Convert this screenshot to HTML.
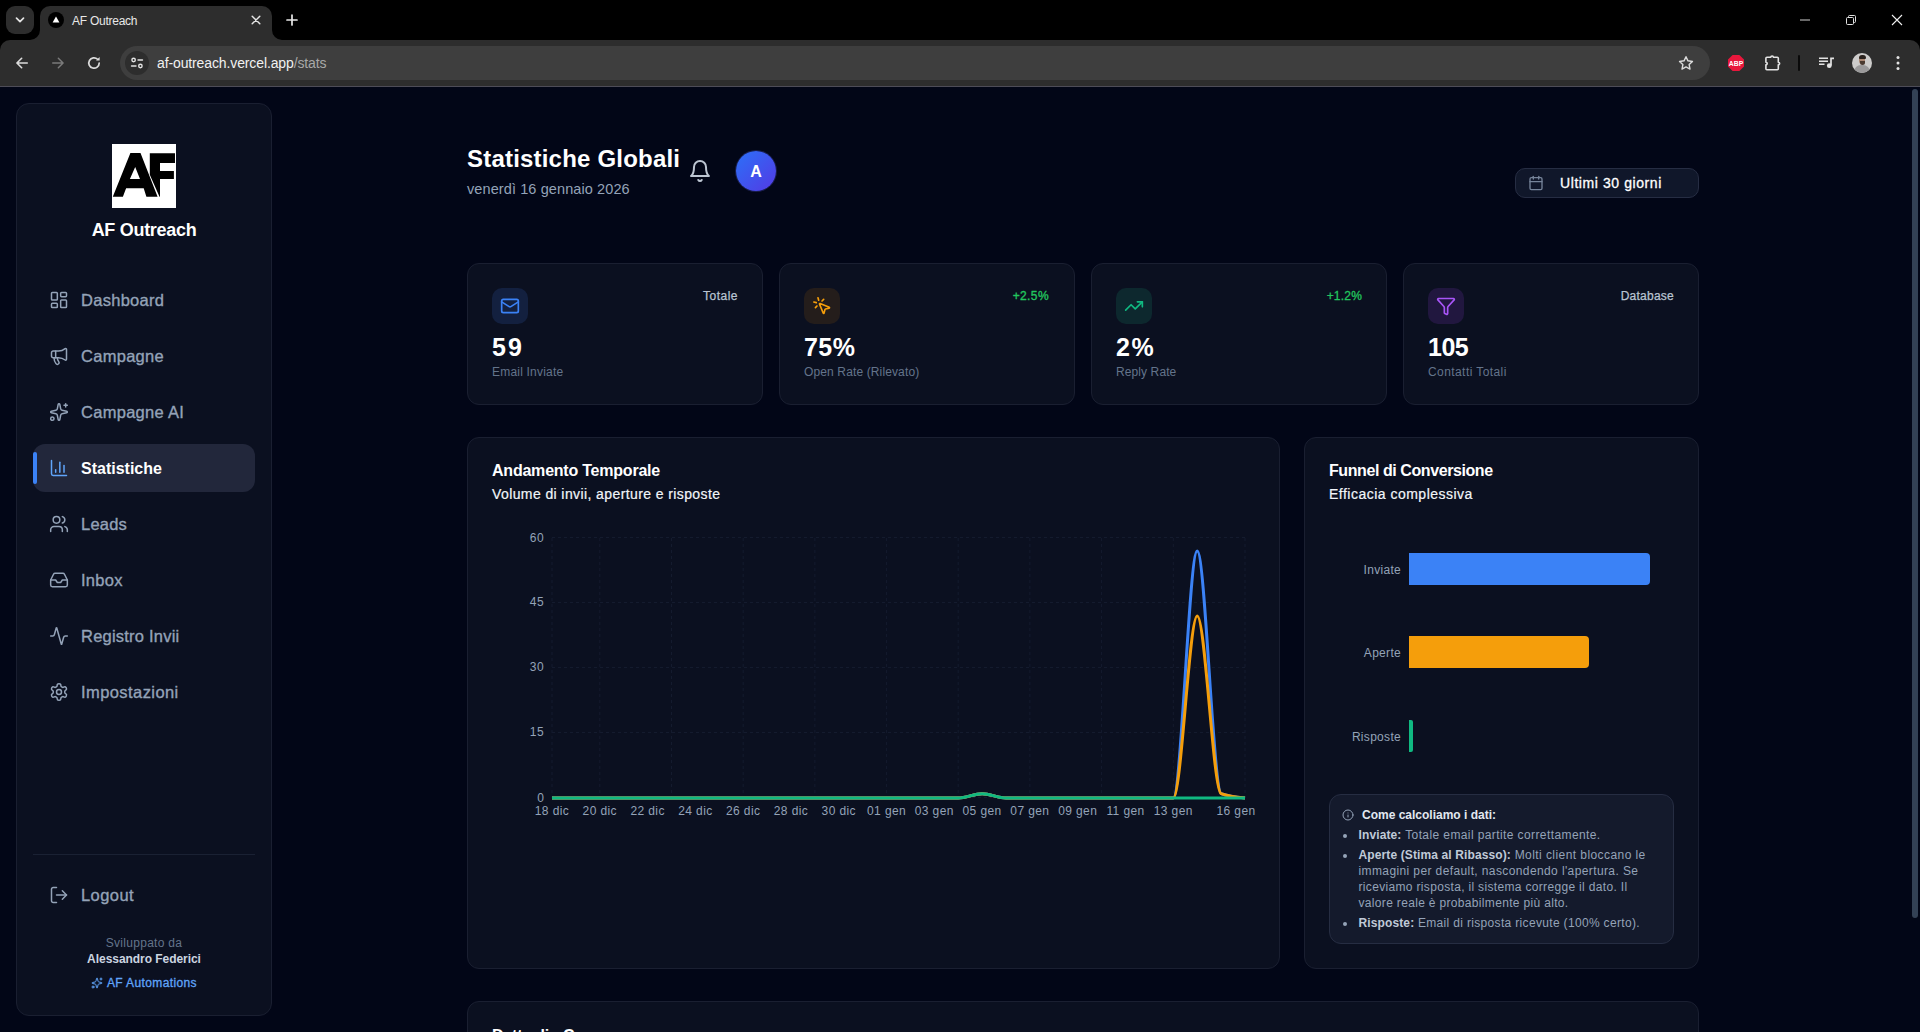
<!DOCTYPE html>
<html lang="it">
<head>
<meta charset="utf-8">
<title>AF Outreach</title>
<style>
*{box-sizing:border-box;margin:0;padding:0}
html,body{width:1920px;height:1032px;overflow:hidden;background:#020617}
body{font-family:"Liberation Sans",sans-serif;color:#fff;position:relative;-webkit-font-smoothing:antialiased}
.abs{position:absolute}
.t{position:absolute;white-space:nowrap;line-height:1}
svg{display:block}
/* ---------- browser chrome ---------- */
#tabstrip{position:absolute;left:0;top:0;width:1920px;height:60px;background:#000}
#toolbar{position:absolute;left:0;top:40px;width:1920px;height:46px;background:#2d2d2d;border-radius:10px 10px 0 0}
#tbline{position:absolute;left:0;top:86px;width:1920px;height:1px;background:#4d4c57}
#tab{position:absolute;left:40px;top:6px;width:232px;height:34px;background:#2d2d2d;border-radius:10px 10px 0 0}
#tabsearch{position:absolute;left:6px;top:6px;width:28px;height:28px;background:#2d2d2d;border-radius:9px}
#omni{position:absolute;left:120px;top:46px;width:1590px;height:34px;border-radius:17px;background:#3e3e3e}
/* ---------- page ---------- */
#page{position:absolute;left:0;top:87px;width:1920px;height:945px;background:#020617;overflow:hidden}
.card{position:absolute;background:#0b1020;border:1px solid #1a1f31;border-radius:12px}
#side{left:16px;top:16px;width:256px;height:913px;border-radius:13px}
.nav{position:absolute;left:81px;font-size:16.5px;font-weight:400;color:#94a3b8;line-height:20px;white-space:nowrap;-webkit-text-stroke:0.35px #94a3b8;letter-spacing:0.28px}
.nico{position:absolute;left:49px;width:20px;height:20px;stroke:#94a3b8;fill:none;stroke-width:1.8;stroke-linecap:round;stroke-linejoin:round}
.ib{font-size:12px;color:#94a3b8;letter-spacing:0.33px}
.ib b{color:#c0cad8;letter-spacing:0.12px}
.ax{font-size:12px;color:#94a3b8;letter-spacing:0.4px}
</style>
</head>
<body>
<!-- ================= BROWSER CHROME ================= -->
<div id="tabstrip"></div>
<div id="tabsearch"></div>
<div id="tab"></div>
<div id="toolbar"></div>
<div id="tbline"></div>
<div id="omni"></div>

<svg class="abs" style="left:30px;top:30px" width="10" height="10" viewBox="0 0 10 10"><path d="M10 0v10H0A10 10 0 0 0 10 0z" fill="#2d2d2d"/></svg>
<svg class="abs" style="left:272px;top:30px" width="10" height="10" viewBox="0 0 10 10"><path d="M0 0v10h10A10 10 0 0 1 0 0z" fill="#2d2d2d"/></svg>
<!-- tab search chevron -->
<svg class="abs" style="left:13px;top:13px" width="14" height="14" viewBox="0 0 14 14"><path d="M3.5 5.2 7 8.7l3.5-3.5" fill="none" stroke="#e3e3e3" stroke-width="1.7" stroke-linecap="round" stroke-linejoin="round"/></svg>
<!-- favicon -->
<svg class="abs" style="left:48px;top:12px" width="16" height="16" viewBox="0 0 16 16"><circle cx="8" cy="8" r="8" fill="#000"/><path d="M8 4.6 11.4 10.6H4.6z" fill="#fff"/></svg>
<div class="t" style="left:72px;top:15px;font-size:12px;color:#e8e8e8;letter-spacing:-0.25px">AF Outreach</div>
<!-- tab close -->
<svg class="abs" style="left:250px;top:14px" width="12" height="12" viewBox="0 0 12 12"><path d="M2.2 2.2l7.6 7.6M9.8 2.2l-7.6 7.6" stroke="#e3e3e3" stroke-width="1.5" stroke-linecap="round"/></svg>
<!-- new tab -->
<svg class="abs" style="left:285px;top:13px" width="14" height="14" viewBox="0 0 14 14"><path d="M7 2v10M2 7h10" stroke="#e8e8e8" stroke-width="1.7" stroke-linecap="round"/></svg>
<!-- window controls -->
<svg class="abs" style="left:1799px;top:14px" width="12" height="12" viewBox="0 0 12 12"><path d="M1 6h10" stroke="#d0d0d0" stroke-width="1"/></svg>
<svg class="abs" style="left:1845px;top:14px" width="12" height="12" viewBox="0 0 12 12"><rect x="1.5" y="3.5" width="7" height="7" rx="1" fill="none" stroke="#e0e0e0" stroke-width="1"/><path d="M3.5 3.5V2.5a1 1 0 0 1 1-1h5a1 1 0 0 1 1 1v5a1 1 0 0 1-1 1h-1" fill="none" stroke="#e0e0e0" stroke-width="1"/></svg>
<svg class="abs" style="left:1891px;top:14px" width="12" height="12" viewBox="0 0 12 12"><path d="M1 1l10 10M11 1L1 11" stroke="#f0f0f0" stroke-width="1.1"/></svg>
<!-- nav buttons -->
<svg class="abs" style="left:15px;top:56px" width="14" height="14" viewBox="0 0 16 16"><path d="M14 8H2.6M7.6 2.6 2.2 8l5.4 5.4" fill="none" stroke="#dcdcdc" stroke-width="1.9" stroke-linecap="round" stroke-linejoin="round"/></svg>
<svg class="abs" style="left:51px;top:56px" width="14" height="14" viewBox="0 0 16 16"><path d="M2 8h11.4M8.4 2.6 13.8 8l-5.4 5.4" fill="none" stroke="#7a7a7a" stroke-width="1.7" stroke-linecap="round" stroke-linejoin="round"/></svg>
<svg class="abs" style="left:86px;top:55px" width="16" height="16" viewBox="0 0 16 16"><path d="M13.2 8a5.2 5.2 0 1 1-1.6-3.75" fill="none" stroke="#dcdcdc" stroke-width="1.7" stroke-linecap="round"/><path d="M13.6 2v3.6H10z" fill="#dcdcdc"/></svg>
<!-- site info -->
<div class="abs" style="left:125px;top:51px;width:24px;height:24px;border-radius:12px;background:#2d2d2d"></div>
<svg class="abs" style="left:130px;top:56px" width="14" height="14" viewBox="0 0 14 14" fill="none" stroke="#e3e3e3" stroke-width="1.4" stroke-linecap="round"><circle cx="3.6" cy="4" r="1.7"/><path d="M8 4h4.5"/><circle cx="10.4" cy="10" r="1.7"/><path d="M1.5 10H6"/></svg>
<div class="t" style="left:157px;top:55.5px;font-size:14px;color:#f1f1f1;letter-spacing:-0.12px">af-outreach.vercel.app<span style="color:#a8a8a8">/stats</span></div>
<!-- star -->
<svg class="abs" style="left:1677px;top:54px" width="18" height="18" viewBox="0 0 24 24"><path d="M12 3.6l2.6 5.5 6 .8-4.4 4.2 1.1 6-5.3-2.9-5.3 2.9 1.1-6L3.4 9.9l6-.8z" fill="none" stroke="#dcdcdc" stroke-width="1.9" stroke-linejoin="round"/></svg>
<!-- ABP -->
<svg class="abs" style="left:1727px;top:54px" width="18" height="18" viewBox="0 0 18 18"><path d="M5.6 1h6.8L17 5.6v6.8L12.400 17H5.6L1 12.4V5.600z" fill="#e8173c"/><text x="9" y="11.6" font-family="Liberation Sans" font-weight="700" font-size="6.8" fill="#fff" text-anchor="middle">ABP</text></svg>
<!-- puzzle -->
<svg class="abs" style="left:1762px;top:51.500px" width="20" height="20" viewBox="0 0 20 20"><path fill="none" stroke="#e3e3e3" stroke-width="1.600" stroke-linejoin="round" d="M3.900 10.200V6.300a1 1 0 0 1 1-1H8.800a1.300 1.300 0 1 1 2.600 0H15.300a1 1 0 0 1 1 1V10.200a1.300 1.300 0 1 1 0 2.600V16.700a1 1 0 0 1-1 1H4.900a1 1 0 0 1-1-1V12.800a1.300 1.300 0 1 0 0-2.600z"/></svg>
<div class="abs" style="left:1798px;top:55px;width:2px;height:16px;background:#0a0a0a;border-radius:1px"></div>
<!-- media -->
<svg class="abs" style="left:1817px;top:54px" width="18" height="18" viewBox="0 0 18 18" fill="none" stroke="#e3e3e3" stroke-width="1.500"><path d="M2 4.300h9M2 7.300h9M2 10.300h5.500"/><path d="M14 11.600V4.300h3" stroke-width="1.700"/><circle cx="12.300" cy="11.700" r="2.400" fill="#e3e3e3" stroke="none"/></svg>
<!-- avatar -->
<div class="abs" style="left:1852px;top:53px;width:20px;height:20px;border-radius:10px;background:#cdcccb;overflow:hidden"><div class="abs" style="left:2px;top:11.500px;width:16px;height:12px;border-radius:7px 7px 0 0;background:#9b9a9b"></div><div class="abs" style="left:7px;top:3px;width:6px;height:8px;border-radius:3px;background:#a98672"></div><div class="abs" style="left:6.500px;top:1.500px;width:7px;height:4px;border-radius:3px 3px 1px 1px;background:#2a221d"></div><div class="abs" style="left:7.500px;top:8px;width:5px;height:3.500px;border-radius:0 0 3px 3px;background:#4a3a30"></div></div>
<!-- menu -->
<svg class="abs" style="left:1894px;top:54px" width="8" height="18" viewBox="0 0 8 18"><circle cx="4" cy="3.600" r="1.500" fill="#e3e3e3"/><circle cx="4" cy="9" r="1.500" fill="#e3e3e3"/><circle cx="4" cy="14.400" r="1.500" fill="#e3e3e3"/></svg>


<!-- ================= PAGE ================= -->
<div id="page">
<!-- SIDEBAR -->
<div class="card" id="side"></div>
<svg class="abs" style="left:112px;top:57px" width="64" height="64" viewBox="0 0 64 64"><rect width="64" height="64" fill="#fff"/><path fill-rule="evenodd" d="M.8 52.800 18.400 8.900H28.500L45.600 52.800H34.400L31.700 44.300H14.100L10.900 52.800zM23.200 23 28 35H17.900z" fill="#000"/><path d="M37.800 9.300H63v9.600H48V27h13.900v8H48v17.800h-.500L37.800 30.800z" fill="#000"/></svg>
<div class="t" style="left:16px;width:256px;text-align:center;top:134px;font-size:18px;font-weight:700;letter-spacing:-0.3px">AF Outreach</div>
<div class="abs" style="left:33px;top:357px;width:222px;height:48px;border-radius:12px;background:#22273b"></div>
<div class="abs" style="left:33px;top:365px;width:4px;height:32px;border-radius:2px;background:#3b82f6"></div>
<svg class="nico" style="top:203px;stroke:#94a3b8" viewBox="0 0 24 24"><rect width="7" height="9" x="3" y="3" rx="1"/><rect width="7" height="5" x="14" y="3" rx="1"/><rect width="7" height="9" x="14" y="12" rx="1"/><rect width="7" height="5" x="3" y="16" rx="1"/></svg>
<div class="nav" style="top:203px">Dashboard</div>
<svg class="nico" style="top:259px;stroke:#94a3b8" viewBox="0 0 24 24"><path d="M11 6a13 13 0 0 0 8.400-2.800A1 1 0 0 1 21 4v12a1 1 0 0 1-1.600.800A13 13 0 0 0 11 14H5a2 2 0 0 1-2-2V8a2 2 0 0 1 2-2z"/><path d="M6 14a12 12 0 0 0 2.400 7.200 2 2 0 0 0 3.200-2.400A8 8 0 0 1 10 14"/><path d="M8 6v8"/></svg>
<div class="nav" style="top:259px">Campagne</div>
<svg class="nico" style="top:315px;stroke:#94a3b8" viewBox="0 0 24 24"><path d="M11.017 2.814a1 1 0 0 1 1.966 0l1.051 5.558a2 2 0 0 0 1.594 1.594l5.558 1.051a1 1 0 0 1 0 1.966l-5.558 1.051a2 2 0 0 0-1.594 1.594l-1.051 5.558a1 1 0 0 1-1.966 0l-1.051-5.558a2 2 0 0 0-1.594-1.594l-5.558-1.051a1 1 0 0 1 0-1.966l5.558-1.051a2 2 0 0 0 1.594-1.594z"/><path d="M20 2v4"/><path d="M22 4h-4"/><circle cx="4" cy="20" r="2"/></svg>
<div class="nav" style="top:315px">Campagne AI</div>
<svg class="nico" style="top:371px;stroke:#60a5fa" viewBox="0 0 24 24"><path d="M3 3v16a2 2 0 0 0 2 2h16"/><path d="M18 17V9"/><path d="M13 17V5"/><path d="M8 17v-3"/></svg>
<div class="nav" style="top:372px;color:#fff;font-weight:700;font-size:16px;-webkit-text-stroke:0;letter-spacing:0px">Statistiche</div>
<svg class="nico" style="top:427px;stroke:#94a3b8" viewBox="0 0 24 24"><path d="M16 21v-2a4 4 0 0 0-4-4H6a4 4 0 0 0-4 4v2"/><circle cx="9" cy="7" r="4"/><path d="M22 21v-2a4 4 0 0 0-3-3.870"/><path d="M16 3.130a4 4 0 0 1 0 7.750"/></svg>
<div class="nav" style="top:427px;letter-spacing:0.21px">Leads</div>
<svg class="nico" style="top:483px;stroke:#94a3b8" viewBox="0 0 24 24"><polyline points="22 12 16 12 14 15 10 15 8 12 2 12"/><path d="M5.450 5.110 2 12v6a2 2 0 0 0 2 2h16a2 2 0 0 0 2-2v-6l-3.450-6.890A2 2 0 0 0 16.760 4H7.240a2 2 0 0 0-1.790 1.110z"/></svg>
<div class="nav" style="top:483px">Inbox</div>
<svg class="nico" style="top:539px;stroke:#94a3b8" viewBox="0 0 24 24"><path d="M22 12h-2.480a2 2 0 0 0-1.930 1.460l-2.350 8.360a.25.25 0 0 1-.480 0L9.240 2.180a.25.25 0 0 0-.480 0l-2.350 8.360A2 2 0 0 1 4.490 12H2"/></svg>
<div class="nav" style="top:539px;letter-spacing:0.22px">Registro Invii</div>
<svg class="nico" style="top:595px;stroke:#94a3b8" viewBox="0 0 24 24"><path d="M12.220 2h-.440a2 2 0 0 0-2 2v.180a2 2 0 0 1-1 1.730l-.430.250a2 2 0 0 1-2 0l-.150-.080a2 2 0 0 0-2.730.730l-.220.380a2 2 0 0 0 .730 2.730l.150.100a2 2 0 0 1 1 1.720v.510a2 2 0 0 1-1 1.740l-.150.090a2 2 0 0 0-.730 2.730l.220.380a2 2 0 0 0 2.730.730l.150-.080a2 2 0 0 1 2 0l.430.250a2 2 0 0 1 1 1.730V20a2 2 0 0 0 2 2h.440a2 2 0 0 0 2-2v-.180a2 2 0 0 1 1-1.730l.430-.250a2 2 0 0 1 2 0l.150.080a2 2 0 0 0 2.730-.730l.220-.390a2 2 0 0 0-.730-2.730l-.150-.080a2 2 0 0 1-1-1.740v-.500a2 2 0 0 1 1-1.740l.150-.090a2 2 0 0 0 .730-2.730l-.220-.380a2 2 0 0 0-2.730-.730l-.150.080a2 2 0 0 1-2 0l-.430-.250a2 2 0 0 1-1-1.730V4a2 2 0 0 0-2-2z"/><circle cx="12" cy="12" r="3"/></svg>
<div class="nav" style="top:595px;letter-spacing:0.42px">Impostazioni</div>
<svg class="nico" style="top:798px;stroke:#94a3b8" viewBox="0 0 24 24"><path d="M9 21H5a2 2 0 0 1-2-2V5a2 2 0 0 1 2-2h4"/><polyline points="16 17 21 12 16 7"/><line x1="21" x2="9" y1="12" y2="12"/></svg>
<div class="nav" style="top:798px;letter-spacing:0.44px">Logout</div>
<div class="abs" style="left:33px;top:767px;width:222px;height:1px;background:#1a2133"></div>
<div class="t" style="left:16px;width:256px;text-align:center;top:850px;font-size:12px;color:#64748b;letter-spacing:0.3px">Sviluppato da</div>
<div class="t" style="left:16px;width:256px;text-align:center;top:866px;font-size:12px;color:#cbd5e1;font-weight:700;letter-spacing:-0.05px">Alessandro Federici</div>
<div class="t" style="left:107px;top:890px;font-size:12px;color:#60a5fa;-webkit-text-stroke:0.3px #60a5fa;letter-spacing:0.37px">AF Automations</div>
<svg class="abs" style="left:91px;top:890px;stroke:#60a5fa;fill:none;stroke-width:2;stroke-linecap:round;stroke-linejoin:round" width="12" height="12" viewBox="0 0 24 24"><path d="M11.017 2.814a1 1 0 0 1 1.966 0l1.051 5.558a2 2 0 0 0 1.594 1.594l5.558 1.051a1 1 0 0 1 0 1.966l-5.558 1.051a2 2 0 0 0-1.594 1.594l-1.051 5.558a1 1 0 0 1-1.966 0l-1.051-5.558a2 2 0 0 0-1.594-1.594l-5.558-1.051a1 1 0 0 1 0-1.966l5.558-1.051a2 2 0 0 0 1.594-1.594z"/><path d="M20 2v4"/><path d="M22 4h-4"/><circle cx="4" cy="20" r="2"/></svg>

<!-- MAIN -->
<div class="t" style="left:467px;top:60px;font-size:24px;font-weight:700;letter-spacing:0.2px">Statistiche Globali</div>
<div class="t" style="left:467px;top:95px;font-size:14.500px;color:#94a3b8;letter-spacing:0.1px">venerdì 16 gennaio 2026</div>
<svg class="abs" style="left:688px;top:72px;stroke:#bcc5d2;fill:none;stroke-width:2;stroke-linecap:round;stroke-linejoin:round" width="24" height="24" viewBox="0 0 24 24"><path d="M6 8a6 6 0 0 1 12 0c0 7 3 9 3 9H3s3-2 3-9"/><path d="M10.300 21a1.940 1.940 0 0 0 3.400 0"/></svg>
<div class="abs" style="left:736px;top:64px;width:40px;height:40px;border-radius:20px;background:linear-gradient(135deg,#2f6bf6 10%,#4f3fe6 90%);box-shadow:0 0 0 1px rgba(99,102,241,.25)"></div>
<div class="t" style="left:736px;width:40px;text-align:center;top:77px;font-size:16px;font-weight:700">A</div>
<div class="abs" style="left:1515px;top:81px;width:184px;height:30px;border-radius:10px;background:#10172a;border:1px solid #262d43"></div>
<svg class="abs" style="left:1528px;top:88px;stroke:#76849a;fill:none;stroke-width:2;stroke-linecap:round;stroke-linejoin:round" width="16" height="16" viewBox="0 0 24 24"><path d="M8 2v4"/><path d="M16 2v4"/><rect width="18" height="18" x="3" y="4" rx="2"/><path d="M3 10h18"/></svg>
<div class="t" style="left:1560px;top:89px;font-size:14px;color:#fff;-webkit-text-stroke:0.3px #fff;letter-spacing:0.58px">Ultimi 30 giorni</div>
<div class="card" style="left:467px;top:176px;width:296px;height:142px"></div>
<div class="abs" style="left:492px;top:201px;width:36px;height:36px;border-radius:10px;background:#13203f"></div>
<svg class="abs" style="left:500px;top:209px;stroke:#3b82f6;fill:none;stroke-width:2;stroke-linecap:round;stroke-linejoin:round" width="20" height="20" viewBox="0 0 24 24"><rect width="20" height="16" x="2" y="4" rx="2"/><path d="m22 7-8.970 5.700a1.940 1.940 0 0 1-2.060 0L2 7"/></svg>
<div class="t" style="right:1182px;top:203px;font-size:12px;color:#b9c4d2;-webkit-text-stroke:0.25px #b9c4d2;letter-spacing:0.5px">Totale</div>
<div class="t" style="left:492px;top:248px;font-size:25px;font-weight:700;letter-spacing:2.2px">59</div>
<div class="t" style="left:492px;top:279px;font-size:12px;color:#64748b;letter-spacing:0.2px">Email Inviate</div>
<div class="card" style="left:779px;top:176px;width:296px;height:142px"></div>
<div class="abs" style="left:804px;top:201px;width:36px;height:36px;border-radius:10px;background:#241d1b"></div>
<svg class="abs" style="left:812px;top:209px;stroke:#f59e0b;fill:none;stroke-width:2;stroke-linecap:round;stroke-linejoin:round" width="20" height="20" viewBox="0 0 24 24"><path d="M14 4.100 12 6"/><path d="m5.100 8-2.900-.800"/><path d="m6 12-1.900 2"/><path d="M7.200 2.200 8 5.100"/><path d="M9.037 9.690a.498.498 0 0 1 .653-.653l11 4.500a.5.5 0 0 1-.074.949l-4.349 1.041a1 1 0 0 0-.740.739l-1.040 4.350a.5.5 0 0 1-.950.074z"/></svg>
<div class="t" style="right:871px;top:203px;font-size:12px;color:#22c55e;-webkit-text-stroke:0.35px #22c55e;letter-spacing:0.4px">+2.5%</div>
<div class="t" style="left:804px;top:248px;font-size:25px;font-weight:700;letter-spacing:0.45px">75%</div>
<div class="t" style="left:804px;top:279px;font-size:12px;color:#64748b;letter-spacing:0.13px">Open Rate (Rilevato)</div>
<div class="card" style="left:1091px;top:176px;width:296px;height:142px"></div>
<div class="abs" style="left:1116px;top:201px;width:36px;height:36px;border-radius:10px;background:#0d282e"></div>
<svg class="abs" style="left:1124px;top:209px;stroke:#10b981;fill:none;stroke-width:2;stroke-linecap:round;stroke-linejoin:round" width="20" height="20" viewBox="0 0 24 24"><polyline points="22 7 13.500 15.500 8.500 10.500 2 17"/><polyline points="16 7 22 7 22 13"/></svg>
<div class="t" style="right:558px;top:203px;font-size:12px;color:#22c55e;-webkit-text-stroke:0.3px #22c55e;letter-spacing:0.2px">+1.2%</div>
<div class="t" style="left:1116px;top:248px;font-size:25px;font-weight:700;letter-spacing:1.7px">2%</div>
<div class="t" style="left:1116px;top:279px;font-size:12px;color:#64748b;letter-spacing:0.1px">Reply Rate</div>
<div class="card" style="left:1403px;top:176px;width:296px;height:142px"></div>
<div class="abs" style="left:1428px;top:201px;width:36px;height:36px;border-radius:10px;background:#21173f"></div>
<svg class="abs" style="left:1436px;top:209px;stroke:#a855f7;fill:none;stroke-width:2;stroke-linecap:round;stroke-linejoin:round" width="20" height="20" viewBox="0 0 24 24"><path d="M10 20a1 1 0 0 0 .553.895l2 1A1 1 0 0 0 14 21v-7a2 2 0 0 1 .517-1.341L21.740 4.670A1 1 0 0 0 21 3H3a1 1 0 0 0-.742 1.670l7.225 7.989A2 2 0 0 1 10 14z"/></svg>
<div class="t" style="right:246px;top:203px;font-size:12px;color:#b9c4d2;-webkit-text-stroke:0.25px #b9c4d2;letter-spacing:0.25px">Database</div>
<div class="t" style="left:1428px;top:248px;font-size:25px;font-weight:700;letter-spacing:-0.5px">105</div>
<div class="t" style="left:1428px;top:279px;font-size:12px;color:#64748b;letter-spacing:0.42px">Contatti Totali</div>
<div class="card" style="left:467px;top:350px;width:813px;height:532px"></div>
<div class="t" style="left:492px;top:376px;font-size:16px;font-weight:700;letter-spacing:-0.22px">Andamento Temporale</div>
<div class="t" style="left:492px;top:400px;font-size:14px;color:#f1f5f9;-webkit-text-stroke:0.2px #f1f5f9;letter-spacing:0.4px">Volume di invii, aperture e risposte</div>
<!-- CHART-START -->
<svg class="abs" style="left:0;top:0" width="1920" height="945" viewBox="0 87 1920 945">
<g stroke="#141b2e" stroke-width="1" stroke-dasharray="3 3" fill="none"><path d="M552.0,537.5H1245.0"/><path d="M552.0,602.5H1245.0"/><path d="M552.0,667.5H1245.0"/><path d="M552.0,732.5H1245.0"/><path d="M552.0,797.5H1245.0"/><path d="M552.0,538.0V798.0"/><path d="M599.8,538.0V798.0"/><path d="M671.5,538.0V798.0"/><path d="M743.2,538.0V798.0"/><path d="M814.9,538.0V798.0"/><path d="M886.6,538.0V798.0"/><path d="M958.2,538.0V798.0"/><path d="M1029.9,538.0V798.0"/><path d="M1101.6,538.0V798.0"/><path d="M1173.3,538.0V798.0"/><path d="M1245.0,538.0V798.0"/></g>
<path d="M552.00,798.00C559.97,798.00,567.93,798.00,575.90,798.00C583.86,798.00,591.83,798.00,599.79,798.00C607.76,798.00,615.72,798.00,623.69,798.00C631.66,798.00,639.62,798.00,647.59,798.00C655.55,798.00,663.52,798.00,671.48,798.00C679.45,798.00,687.41,798.00,695.38,798.00C703.34,798.00,711.31,798.00,719.28,798.00C727.24,798.00,735.21,798.00,743.17,798.00C751.14,798.00,759.10,798.00,767.07,798.00C775.03,798.00,783.00,798.00,790.97,798.00C798.93,798.00,806.90,798.00,814.86,798.00C822.83,798.00,830.79,798.00,838.76,798.00C846.72,798.00,854.69,798.00,862.66,798.00C870.62,798.00,878.59,798.00,886.55,798.00C894.52,798.00,902.48,798.00,910.45,798.00C918.41,798.00,926.38,798.00,934.34,798.00C942.31,798.00,950.28,798.00,958.24,798.00C966.21,798.00,974.17,793.67,982.14,793.67C990.10,793.67,998.07,798.00,1006.03,798.00C1014.00,798.00,1021.97,798.00,1029.93,798.00C1037.90,798.00,1045.86,798.00,1053.83,798.00C1061.79,798.00,1069.76,798.00,1077.72,798.00C1085.69,798.00,1093.66,798.00,1101.62,798.00C1109.59,798.00,1117.55,798.00,1125.52,798.00C1133.48,798.00,1141.45,798.00,1149.41,798.00C1157.38,798.00,1165.34,798.00,1173.31,798.00C1181.28,798.00,1189.24,551.00,1197.21,551.00C1205.17,551.00,1213.14,790.78,1221.10,793.67C1229.07,796.56,1237.03,797.28,1245.00,798.00" fill="none" stroke="#3b82f6" stroke-width="3" stroke-linecap="butt"/>
<path d="M552.00,798.00C559.97,798.00,567.93,798.00,575.90,798.00C583.86,798.00,591.83,798.00,599.79,798.00C607.76,798.00,615.72,798.00,623.69,798.00C631.66,798.00,639.62,798.00,647.59,798.00C655.55,798.00,663.52,798.00,671.48,798.00C679.45,798.00,687.41,798.00,695.38,798.00C703.34,798.00,711.31,798.00,719.28,798.00C727.24,798.00,735.21,798.00,743.17,798.00C751.14,798.00,759.10,798.00,767.07,798.00C775.03,798.00,783.00,798.00,790.97,798.00C798.93,798.00,806.90,798.00,814.86,798.00C822.83,798.00,830.79,798.00,838.76,798.00C846.72,798.00,854.69,798.00,862.66,798.00C870.62,798.00,878.59,798.00,886.55,798.00C894.52,798.00,902.48,798.00,910.45,798.00C918.41,798.00,926.38,798.00,934.34,798.00C942.31,798.00,950.28,798.00,958.24,798.00C966.21,798.00,974.17,793.67,982.14,793.67C990.10,793.67,998.07,798.00,1006.03,798.00C1014.00,798.00,1021.97,798.00,1029.93,798.00C1037.90,798.00,1045.86,798.00,1053.83,798.00C1061.79,798.00,1069.76,798.00,1077.72,798.00C1085.69,798.00,1093.66,798.00,1101.62,798.00C1109.59,798.00,1117.55,798.00,1125.52,798.00C1133.48,798.00,1141.45,798.00,1149.41,798.00C1157.38,798.00,1165.34,798.00,1173.31,798.00C1181.28,798.00,1189.24,616.00,1197.21,616.00C1205.17,616.00,1213.14,790.78,1221.10,793.67C1229.07,796.56,1237.03,797.28,1245.00,798.00" fill="none" stroke="#f59e0b" stroke-width="3" stroke-linecap="butt"/>
<path d="M552.00,798.00C559.97,798.00,567.93,798.00,575.90,798.00C583.86,798.00,591.83,798.00,599.79,798.00C607.76,798.00,615.72,798.00,623.69,798.00C631.66,798.00,639.62,798.00,647.59,798.00C655.55,798.00,663.52,798.00,671.48,798.00C679.45,798.00,687.41,798.00,695.38,798.00C703.34,798.00,711.31,798.00,719.28,798.00C727.24,798.00,735.21,798.00,743.17,798.00C751.14,798.00,759.10,798.00,767.07,798.00C775.03,798.00,783.00,798.00,790.97,798.00C798.93,798.00,806.90,798.00,814.86,798.00C822.83,798.00,830.79,798.00,838.76,798.00C846.72,798.00,854.69,798.00,862.66,798.00C870.62,798.00,878.59,798.00,886.55,798.00C894.52,798.00,902.48,798.00,910.45,798.00C918.41,798.00,926.38,798.00,934.34,798.00C942.31,798.00,950.28,798.00,958.24,798.00C966.21,798.00,974.17,793.67,982.14,793.67C990.10,793.67,998.07,798.00,1006.03,798.00C1014.00,798.00,1021.97,798.00,1029.93,798.00C1037.90,798.00,1045.86,798.00,1053.83,798.00C1061.79,798.00,1069.76,798.00,1077.72,798.00C1085.69,798.00,1093.66,798.00,1101.62,798.00C1109.59,798.00,1117.55,798.00,1125.52,798.00C1133.48,798.00,1141.45,798.00,1149.41,798.00C1157.38,798.00,1165.34,798.00,1173.31,798.00C1181.28,798.00,1189.24,798.00,1197.21,798.00C1205.17,798.00,1213.14,798.00,1221.10,798.00C1229.07,798.00,1237.03,798.00,1245.00,798.00" fill="none" stroke="#10b981" stroke-width="3" stroke-linecap="butt"/>
</svg>
<div class="t ax" style="right:1375.5px;top:445px;letter-spacing:0.7px">60</div>
<div class="t ax" style="right:1375.5px;top:509px;letter-spacing:0.7px">45</div>
<div class="t ax" style="right:1375.5px;top:574px;letter-spacing:0.7px">30</div>
<div class="t ax" style="right:1375.5px;top:639px;letter-spacing:0.7px">15</div>
<div class="t ax" style="right:1375.5px;top:705px;letter-spacing:0.7px">0</div>
<div class="t ax" style="left:512.0px;width:80px;text-align:center;top:718px">18 dic</div>
<div class="t ax" style="left:559.8px;width:80px;text-align:center;top:718px">20 dic</div>
<div class="t ax" style="left:607.6px;width:80px;text-align:center;top:718px">22 dic</div>
<div class="t ax" style="left:655.4px;width:80px;text-align:center;top:718px">24 dic</div>
<div class="t ax" style="left:703.2px;width:80px;text-align:center;top:718px">26 dic</div>
<div class="t ax" style="left:751.0px;width:80px;text-align:center;top:718px">28 dic</div>
<div class="t ax" style="left:798.8px;width:80px;text-align:center;top:718px">30 dic</div>
<div class="t ax" style="left:846.6px;width:80px;text-align:center;top:718px">01 gen</div>
<div class="t ax" style="left:894.3px;width:80px;text-align:center;top:718px">03 gen</div>
<div class="t ax" style="left:942.1px;width:80px;text-align:center;top:718px">05 gen</div>
<div class="t ax" style="left:989.9px;width:80px;text-align:center;top:718px">07 gen</div>
<div class="t ax" style="left:1037.7px;width:80px;text-align:center;top:718px">09 gen</div>
<div class="t ax" style="left:1085.5px;width:80px;text-align:center;top:718px">11 gen</div>
<div class="t ax" style="left:1133.3px;width:80px;text-align:center;top:718px">13 gen</div>
<div class="t ax" style="left:1196px;width:80px;text-align:center;top:718px">16 gen</div>
<!-- CHART-END -->
<div class="card" style="left:1304px;top:350px;width:395px;height:532px"></div>
<div class="t" style="left:1329px;top:376px;font-size:16px;font-weight:700;letter-spacing:-0.42px">Funnel di Conversione</div>
<div class="t" style="left:1329px;top:400px;font-size:14px;color:#f1f5f9;-webkit-text-stroke:0.2px #f1f5f9;letter-spacing:0.49px">Efficacia complessiva</div>
<div class="t" style="right:519px;top:477px;font-size:12px;color:#94a3b8;letter-spacing:0.3px">Inviate</div>
<div class="abs" style="left:1409px;top:466px;width:241px;height:32px;background:#3b82f6;border-radius:0 4px 4px 0"></div>
<div class="t" style="right:519px;top:560px;font-size:12px;color:#94a3b8;letter-spacing:0.3px">Aperte</div>
<div class="abs" style="left:1409px;top:549px;width:180px;height:32px;background:#f59e0b;border-radius:0 4px 4px 0"></div>
<div class="t" style="right:519px;top:644px;font-size:12px;color:#94a3b8;letter-spacing:0.3px">Risposte</div>
<div class="abs" style="left:1409px;top:633px;width:4px;height:32px;background:#10b981;border-radius:0 2px 2px 0"></div>
<div class="abs" style="left:1329px;top:707px;width:345px;height:150px;border-radius:12px;background:#141a2c;border:1px solid #262d42"></div>
<svg class="abs" style="left:1342px;top:722px;stroke:#94a3b8;fill:none;stroke-width:2;stroke-linecap:round;stroke-linejoin:round" width="12" height="12" viewBox="0 0 24 24"><circle cx="12" cy="12" r="10"/><path d="M12 16v-4"/><path d="M12 8h.010"/></svg>
<div class="t" style="left:1362px;top:722px;font-size:12px;font-weight:700;color:#e2e8f0;letter-spacing:0px">Come calcoliamo i dati:</div>
<div class="abs" style="left:1343px;top:746.5px;width:4px;height:4px;border-radius:2px;background:#94a3b8"></div>
<div class="t ib" style="left:1358.500px;top:742px"><b>Inviate:</b> <span style="letter-spacing:.4px">Totale email partite correttamente.</span></div>
<div class="abs" style="left:1343px;top:766.5px;width:4px;height:4px;border-radius:2px;background:#94a3b8"></div>
<div class="t ib" style="left:1358.500px;top:762px"><b>Aperte (Stima al Ribasso):</b> <span style="letter-spacing:.43px">Molti client bloccano le</span></div>
<div class="t ib" style="left:1358.500px;top:778px;letter-spacing:.39px">immagini per default, nascondendo l'apertura. Se</div>
<div class="t ib" style="left:1358.500px;top:794px">riceviamo risposta, il sistema corregge il dato. Il</div>
<div class="t ib" style="left:1358.500px;top:810px">valore reale è probabilmente più alto.</div>
<div class="abs" style="left:1343px;top:834.5px;width:4px;height:4px;border-radius:2px;background:#94a3b8"></div>
<div class="t ib" style="left:1358.500px;top:830px"><b>Risposte:</b> Email di risposta ricevute (100% certo).</div>
<div class="card" style="left:467px;top:914px;width:1232px;height:200px"></div>
<div class="t" style="left:492px;top:940.5px;font-size:16px;font-weight:700;letter-spacing:-0.2px">Dettaglio Campagne</div>
<div class="abs" style="left:1912px;top:2px;width:6px;height:829px;border-radius:3px;background:#334155"></div>
</div>
</body>
</html>
